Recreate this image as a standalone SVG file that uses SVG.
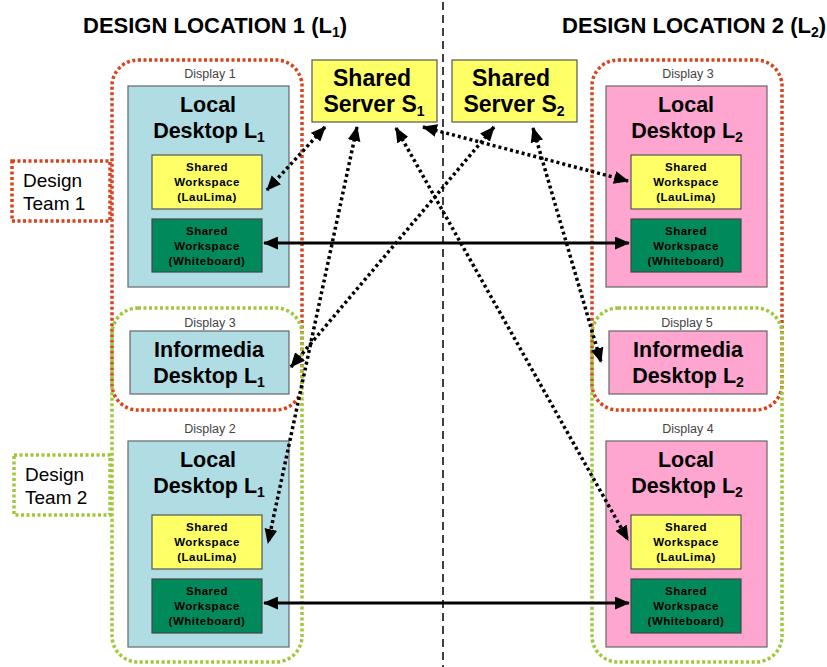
<svg xmlns="http://www.w3.org/2000/svg" width="827" height="667" viewBox="0 0 827 667">
  <defs>
    <marker id="tip" viewBox="0 0 14 12" markerWidth="15" markerHeight="13" refX="13" refY="6" orient="auto-start-reverse" markerUnits="userSpaceOnUse">
      <path d="M0,0 L14,6 L0,12 z" fill="#000"/>
    </marker>
    <style>
      text { font-family: "Liberation Sans", Arial, sans-serif; }
      .title { font-size: 22px; font-weight: bold; fill: #000; }
      .big { font-size: 21.5px; font-weight: bold; fill: #000; text-anchor: middle; }
      .srv { font-size: 23px; font-weight: bold; fill: #000; text-anchor: middle; }
      .sub { font-size: 14px; }
      .small { font-size: 11.5px; font-weight: bold; fill: #000; text-anchor: middle; letter-spacing: 0.5px; }
      .disp { font-size: 12.5px; fill: #444; text-anchor: middle; }
      .team { font-size: 19px; fill: #000; }
      .red { fill: none; stroke: #d8431c; stroke-width: 3.5; stroke-dasharray: 3 2.5; }
      .grn { fill: none; stroke: #9ec73a; stroke-width: 3.5; stroke-dasharray: 3 2.5; }
      .blue { fill: #b0dde3; stroke: #666; stroke-width: 1.2; }
      .pink { fill: #ffa6d0; stroke: #666; stroke-width: 1.2; }
      .yel { fill: #ffff66; stroke: #555; stroke-width: 1.2; }
      .wb { fill: #008a5c; stroke: #444; stroke-width: 1.2; }
      .dot { fill: none; stroke: #000; stroke-width: 3.5; stroke-dasharray: 3 3; marker-start: url(#tip); marker-end: url(#tip); }
      .solid { fill: none; stroke: #000; stroke-width: 3; marker-start: url(#tip); marker-end: url(#tip); }
    </style>
  </defs>

  <rect width="827" height="667" fill="#fff"/>

  <!-- location headings and divider -->
  <text class="title" x="83" y="33">DESIGN LOCATION 1 (L<tspan class="sub" dy="4">1</tspan><tspan dy="-4">)</tspan></text>
  <text class="title" x="562" y="33">DESIGN LOCATION 2 (L<tspan class="sub" dy="4">2</tspan><tspan dy="-4">)</tspan></text>
  <line x1="443" y1="2" x2="443" y2="667" stroke="#000" stroke-width="1.5" stroke-dasharray="8 5"/>

  <!-- team groupings -->
  <g id="team1-left">
    <rect class="red" x="112" y="60" width="190" height="350" rx="26"/>
  </g>
  <g id="team2-left">
    <rect class="grn" x="112" y="308" width="190" height="354" rx="26"/>
  </g>
  <g id="team1-right">
    <rect class="red" x="592" y="60" width="190" height="350" rx="26"/>
  </g>
  <g id="team2-right">
    <rect class="grn" x="592" y="308" width="190" height="354" rx="26"/>
  </g>

  <g id="design-team-1">
    <rect class="red" x="12" y="161" width="98" height="60"/>
    <text class="team" x="23" y="187">Design</text>
    <text class="team" x="23" y="210">Team 1</text>
  </g>
  <g id="design-team-2">
    <rect class="grn" x="14" y="455" width="96" height="60"/>
    <text class="team" x="25" y="481">Design</text>
    <text class="team" x="25" y="504">Team 2</text>
  </g>

  <!-- shared servers -->
  <g id="server-s1">
    <rect class="yel" x="312" y="60" width="125" height="62"/>
    <text class="srv" x="372" y="86">Shared</text>
    <text class="srv" x="374" y="112">Server S<tspan class="sub" dy="4">1</tspan></text>
  </g>
  <g id="server-s2">
    <rect class="yel" x="452" y="60" width="125" height="62"/>
    <text class="srv" x="511" y="86">Shared</text>
    <text class="srv" x="514" y="112">Server S<tspan class="sub" dy="4">2</tspan></text>
  </g>

  <!-- location 1 displays -->
  <g id="display1-local-l1">
    <text class="disp" x="210" y="78">Display 1</text>
    <rect class="blue" x="128" y="86" width="161" height="201"/>
    <text class="big" x="208" y="112">Local</text>
    <text class="big" x="209" y="138">Desktop L<tspan class="sub" dy="4">1</tspan></text>
    <g id="l1-laulima-a">
      <rect class="yel" x="152" y="155" width="110" height="54"/>
      <text class="small" x="207" y="171">Shared</text>
      <text class="small" x="207" y="186">Workspace</text>
      <text class="small" x="207" y="201">(LauLima)</text>
    </g>
    <g id="l1-whiteboard-a">
      <rect class="wb" x="152" y="219" width="110" height="53"/>
      <text class="small" x="207" y="235">Shared</text>
      <text class="small" x="207" y="250">Workspace</text>
      <text class="small" x="207" y="265">(Whiteboard)</text>
    </g>
  </g>

  <g id="display3-informedia-l1">
    <text class="disp" x="210" y="327">Display 3</text>
    <rect class="blue" x="130" y="331" width="159" height="63"/>
    <text class="big" x="209" y="357">Informedia</text>
    <text class="big" x="209" y="383">Desktop L<tspan class="sub" dy="4">1</tspan></text>
  </g>

  <g id="display2-local-l1">
    <text class="disp" x="210" y="433">Display 2</text>
    <rect class="blue" x="128" y="441" width="161" height="206"/>
    <text class="big" x="208" y="467">Local</text>
    <text class="big" x="209" y="493">Desktop L<tspan class="sub" dy="4">1</tspan></text>
    <g id="l1-laulima-b">
      <rect class="yel" x="152" y="515" width="110" height="54"/>
      <text class="small" x="207" y="531">Shared</text>
      <text class="small" x="207" y="546">Workspace</text>
      <text class="small" x="207" y="561">(LauLima)</text>
    </g>
    <g id="l1-whiteboard-b">
      <rect class="wb" x="152" y="579" width="110" height="54"/>
      <text class="small" x="207" y="595">Shared</text>
      <text class="small" x="207" y="610">Workspace</text>
      <text class="small" x="207" y="625">(Whiteboard)</text>
    </g>
  </g>

  <!-- location 2 displays -->
  <g id="display3-local-l2">
    <text class="disp" x="688" y="78">Display 3</text>
    <rect class="pink" x="606" y="86" width="161" height="201"/>
    <text class="big" x="686" y="112">Local</text>
    <text class="big" x="687" y="138">Desktop L<tspan class="sub" dy="4">2</tspan></text>
    <g id="l2-laulima-a">
      <rect class="yel" x="631" y="155" width="110" height="54"/>
      <text class="small" x="686" y="171">Shared</text>
      <text class="small" x="686" y="186">Workspace</text>
      <text class="small" x="686" y="201">(LauLima)</text>
    </g>
    <g id="l2-whiteboard-a">
      <rect class="wb" x="631" y="219" width="110" height="53"/>
      <text class="small" x="686" y="235">Shared</text>
      <text class="small" x="686" y="250">Workspace</text>
      <text class="small" x="686" y="265">(Whiteboard)</text>
    </g>
  </g>

  <g id="display5-informedia-l2">
    <text class="disp" x="687" y="327">Display 5</text>
    <rect class="pink" x="609" y="331" width="158" height="63"/>
    <text class="big" x="688" y="357">Informedia</text>
    <text class="big" x="688" y="383">Desktop L<tspan class="sub" dy="4">2</tspan></text>
  </g>

  <g id="display4-local-l2">
    <text class="disp" x="688" y="433">Display 4</text>
    <rect class="pink" x="606" y="441" width="161" height="206"/>
    <text class="big" x="686" y="467">Local</text>
    <text class="big" x="687" y="493">Desktop L<tspan class="sub" dy="4">2</tspan></text>
    <g id="l2-laulima-b">
      <rect class="yel" x="631" y="515" width="110" height="54"/>
      <text class="small" x="686" y="531">Shared</text>
      <text class="small" x="686" y="546">Workspace</text>
      <text class="small" x="686" y="561">(LauLima)</text>
    </g>
    <g id="l2-whiteboard-b">
      <rect class="wb" x="631" y="579" width="110" height="54"/>
      <text class="small" x="686" y="595">Shared</text>
      <text class="small" x="686" y="610">Workspace</text>
      <text class="small" x="686" y="625">(Whiteboard)</text>
    </g>
  </g>

  <!-- connectors -->
  <g id="connectors">
    <line class="solid" x1="264" y1="243" x2="629" y2="243"/>
    <line class="solid" x1="264" y1="603" x2="629" y2="603"/>
    <line class="dot" x1="325" y1="127" x2="267" y2="190"/>
    <line class="dot" x1="357" y1="127" x2="268" y2="543"/>
    <line class="dot" x1="423" y1="127" x2="628" y2="181"/>
    <line class="dot" x1="396" y1="128" x2="628" y2="540"/>
    <line class="dot" x1="494" y1="127" x2="291" y2="367"/>
    <line class="dot" x1="533" y1="128" x2="601" y2="362"/>
  </g>
</svg>
